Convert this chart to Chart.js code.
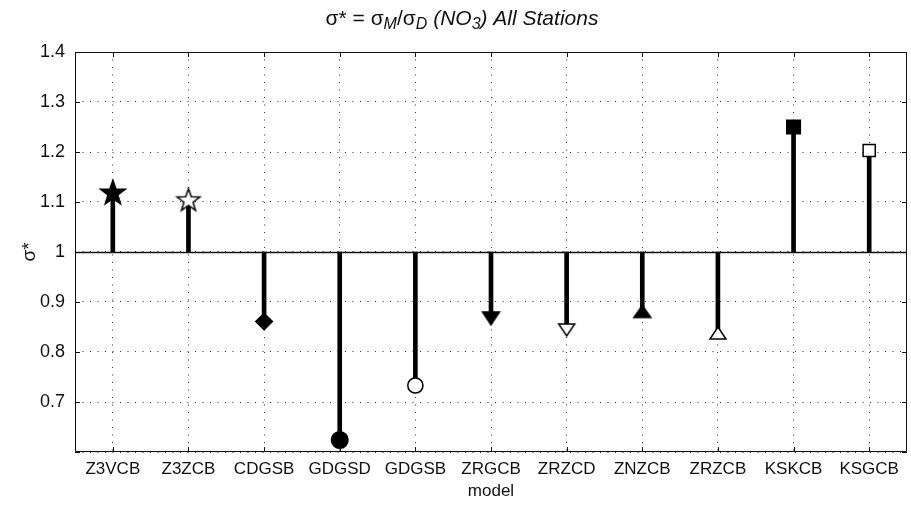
<!DOCTYPE html>
<html>
<head>
<meta charset="utf-8">
<script src="https://cdn.jsdelivr.net/npm/chart.js@4.4.1/dist/chart.umd.min.js"></script>
<style>
  html, body { margin: 0; padding: 0; background: #fff; }
  #wrap { width: 911px; height: 505px; }
</style>
</head>
<body>
<div id="wrap"><canvas id="sigmaChart" width="911" height="505"></canvas></div>
<script>
'use strict'

const models = ['Z3VCB', 'Z3ZCB', 'CDGSB', 'GDGSD', 'GDGSB', 'ZRGCB', 'ZRZCD', 'ZNZCB', 'ZRZCB', 'KSKCB', 'KSGCB'];
const sigmaRatio = [1.12, 1.105, 0.861, 0.624, 0.733, 0.867, 0.844, 0.881, 0.838, 1.25, 1.203];
const yTicks = [0.6, 0.7, 0.8, 0.9, 1, 1.1, 1.2, 1.3, 1.4];
const baseline = 1;

const FONT = 'Liberation Sans, Arial, Helvetica, sans-serif';

// marker images: stars and triangles
function makeStar(outer, filled) {
  const size = Math.ceil(outer * 2 + 4);
  const c = document.createElement('canvas');
  c.width = size; c.height = size;
  const ctx = c.getContext('2d');
  const cx = size / 2, cy = size / 2 + outer * 0.1;
  const inner = outer * 0.4;
  ctx.beginPath();
  for (let i = 0; i < 10; i++) {
    const r = i % 2 === 0 ? outer : inner;
    const a = -Math.PI / 2 + i * Math.PI / 5;
    const px = cx + r * Math.cos(a), py = cy + r * Math.sin(a);
    if (i === 0) ctx.moveTo(px, py); else ctx.lineTo(px, py);
  }
  ctx.closePath();
  ctx.fillStyle = filled ? '#000' : '#fff';
  ctx.fill();
  ctx.lineWidth = 1.5;
  ctx.strokeStyle = '#000';
  ctx.lineJoin = 'miter';
  ctx.stroke();
  return c;
}

function makeTriangle(w, h, up, filled) {
  const c = document.createElement('canvas');
  c.width = w + 4; c.height = h + 4;
  const ctx = c.getContext('2d');
  const l = 2, r = w + 2, t = 2, b = h + 2;
  ctx.beginPath();
  if (up) {
    ctx.moveTo((l + r) / 2, t); ctx.lineTo(r, b); ctx.lineTo(l, b);
  } else {
    ctx.moveTo(l, t); ctx.lineTo(r, t); ctx.lineTo((l + r) / 2, b);
  }
  ctx.closePath();
  ctx.fillStyle = filled ? '#000' : '#fff';
  ctx.fill();
  ctx.lineWidth = 1.5;
  ctx.strokeStyle = '#000';
  ctx.stroke();
  return c;
}

const markerStyles = [
  makeStar(13, true),
  makeStar(12, false),
  'rectRot',
  'circle',
  'circle',
  makeTriangle(17, 13, false, true),
  makeTriangle(16, 12, false, false),
  makeTriangle(17, 12, true, true),
  makeTriangle(16, 12, true, false),
  'rect',
  'rect'
];
const markerRadius = [13, 12, 8.3, 8.3, 7.6, 9, 9, 9, 9, 9.6, 8.6];
const markerFill = ['#000', '#fff', '#000', '#000', '#fff', '#000', '#fff', '#000', '#fff', '#000', '#fff'];

// frame, inward ticks and the sigma* = 1 reference line
const framePlugin = {
  id: 'frame',
  afterDatasetsDraw(chart) {
    const {ctx, chartArea: a, scales: {x, y}} = chart;
    ctx.save();
    ctx.strokeStyle = '#111';
    ctx.lineWidth = 1.4;
    const y1 = Math.round(y.getPixelForValue(baseline)) + 0.5;
    ctx.beginPath();
    ctx.moveTo(a.left, y1);
    ctx.lineTo(a.right, y1);
    ctx.stroke();

    ctx.lineWidth = 1;
    ctx.beginPath();
    ctx.rect(a.left + 0.5, a.top + 0.5, a.right - a.left - 1, a.bottom - a.top - 1);
    const tl = 5;
    yTicks.forEach(v => {
      const py = Math.round(y.getPixelForValue(v)) + 0.5;
      ctx.moveTo(a.left, py); ctx.lineTo(a.left + tl, py);
      ctx.moveTo(a.right, py); ctx.lineTo(a.right - tl, py);
    });
    models.forEach((m, i) => {
      const px = Math.round(x.getPixelForValue(i)) + 0.5;
      ctx.moveTo(px, a.bottom); ctx.lineTo(px, a.bottom - tl);
      ctx.moveTo(px, a.top); ctx.lineTo(px, a.top + tl);
    });
    ctx.stroke();
    ctx.restore();
  },
  afterDraw(chart) {
    // title with subscripts
    const {ctx} = chart;
    const parts = [
      {t: 'σ*', s: 'normal', sub: false},
      {t: ' = σ', s: 'normal', sub: false},
      {t: 'M', s: 'italic', sub: true},
      {t: '/σ', s: 'normal', sub: false},
      {t: 'D', s: 'italic', sub: true},
      {t: ' (NO', s: 'italic', sub: false},
      {t: '3', s: 'italic', sub: true},
      {t: ') All Stations', s: 'italic', sub: false}
    ];
    const size = 21, subSize = 16;
    ctx.save();
    ctx.fillStyle = '#111';
    ctx.textBaseline = 'alphabetic';
    let total = 0;
    parts.forEach(p => {
      ctx.font = p.s + ' ' + (p.sub ? subSize : size) + 'px ' + FONT;
      p.w = ctx.measureText(p.t).width;
      total += p.w;
    });
    let px = 462 - total / 2;
    const base = 25;
    parts.forEach(p => {
      ctx.font = p.s + ' ' + (p.sub ? subSize : size) + 'px ' + FONT;
      ctx.fillText(p.t, px, p.sub ? base + 4 : base);
      px += p.w;
    });
    ctx.restore();
  }
};

const gridStyle = {
  color: '#333',
  lineWidth: 1,
  drawTicks: false
};

new Chart(document.getElementById('sigmaChart'), {
  data: {
    labels: models,
    datasets: [
      {
        type: 'line',
        data: sigmaRatio,
        showLine: false,
        pointStyle: markerStyles,
        pointRadius: markerRadius,
        pointBackgroundColor: markerFill,
        pointBorderColor: '#000',
        pointBorderWidth: 1.5,
        order: 0
      },
      {
        type: 'bar',
        data: sigmaRatio.map(v => [baseline, v]),
        backgroundColor: '#000',
        barThickness: 4,
        order: 1
      }
    ]
  },
  options: {
    responsive: false,
    animation: false,
    layout: { autoPadding: false, padding: { top: 52, right: 4, left: 0, bottom: 0 } },
    plugins: {
      legend: { display: false },
      tooltip: { enabled: false }
    },
    scales: {
      x: {
        grid: Object.assign({ offset: false }, gridStyle),
        border: { display: false, dash: [1, 6.5] },
        ticks: {
          color: '#111',
          padding: 7,
          maxRotation: 0,
          autoSkip: false,
          font: { family: FONT, size: 17 }
        },
        title: {
          display: true,
          text: 'model',
          color: '#111',
          font: { family: FONT, size: 17 },
          padding: { top: 3, bottom: 3 }
        },
        afterFit(scale) {
          scale.height = 53;
          scale.paddingLeft = 0;
          scale.paddingRight = 0;
        }
      },
      y: {
        min: 0.6,
        max: 1.4,
        grid: gridStyle,
        border: { display: false, dash: [1, 6.5] },
        afterBuildTicks(scale) { scale.ticks = yTicks.map(v => ({ value: v })); },
        ticks: {
          color: '#111',
          padding: 10,
          font: { family: FONT, size: 18 },
          callback: v => (Math.abs(v - 0.6) < 1e-9 ? '' : String(Math.round(v * 10) / 10))
        },
        title: {
          display: true,
          text: 'σ*',
          color: '#111',
          font: { family: FONT, size: 19 },
          padding: { top: 18, bottom: 18 }
        },
        afterFit(scale) {
          scale.width = 75;
          scale.paddingTop = 0;
          scale.paddingBottom = 0;
        }
      }
    }
  },
  plugins: [framePlugin]
});
</script>
</body>
</html>
